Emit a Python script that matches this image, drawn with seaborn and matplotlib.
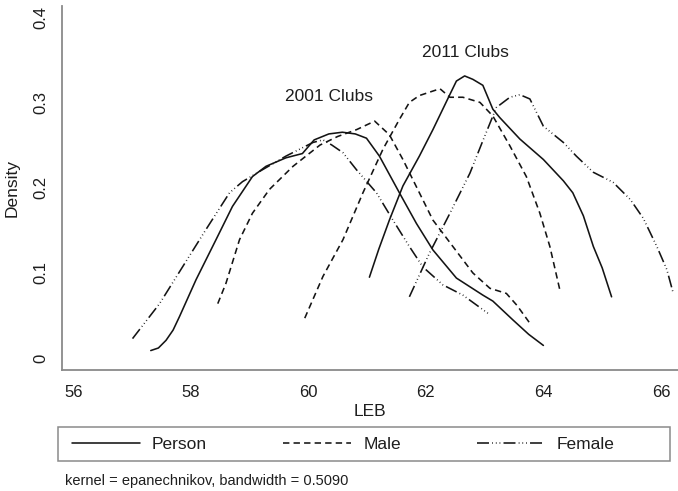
import numpy as np
import pandas as pd
import matplotlib
matplotlib.use("Agg")
import matplotlib.pyplot as plt
import matplotlib.patches as mpatches
import seaborn as sns

# ---- data (LEB, density) ----
person_2001_x = [57.32, 57.45, 57.58, 57.70, 57.81, 58.09, 58.43, 58.71, 59.05, 59.28, 59.62, 59.90,
                 60.10, 60.35, 60.58, 60.80, 60.99, 61.21, 61.55, 61.84, 62.12, 62.52, 62.97, 63.14,
                 63.48, 63.75, 64.00]
person_2001_y = [0.009, 0.012, 0.021, 0.033, 0.049, 0.092, 0.139, 0.178, 0.213, 0.225, 0.235, 0.240,
                 0.256, 0.263, 0.265, 0.263, 0.258, 0.237, 0.194, 0.158, 0.127, 0.094, 0.074, 0.067,
                 0.045, 0.028, 0.015]

male_2001_x = [58.46, 58.60, 58.83, 59.05, 59.34, 59.74, 59.96, 60.20, 60.50, 60.82, 61.13, 61.38,
               61.61, 61.89, 62.12, 62.46, 62.80, 63.09, 63.37, 63.55, 63.77]
male_2001_y = [0.064, 0.088, 0.139, 0.170, 0.198, 0.225, 0.237, 0.250, 0.260, 0.268, 0.278, 0.262,
               0.233, 0.194, 0.162, 0.131, 0.100, 0.082, 0.076, 0.062, 0.041]

female_2001_x = [57.01, 57.47, 57.86, 58.26, 58.66, 58.88, 59.22, 59.62, 60.08, 60.25, 60.40, 60.59,
                 60.82, 61.16, 61.44, 61.72, 61.95, 62.29, 62.63, 62.85, 63.09]
female_2001_y = [0.023, 0.064, 0.107, 0.151, 0.194, 0.207, 0.221, 0.237, 0.253, 0.256, 0.250, 0.241,
                 0.221, 0.194, 0.162, 0.131, 0.107, 0.086, 0.074, 0.063, 0.051]

person_2011_x = [61.04, 61.20, 61.38, 61.61, 61.89, 62.12, 62.40, 62.52, 62.66, 62.80, 62.97, 63.14,
                 63.26, 63.60, 64.00, 64.34, 64.50, 64.68, 64.85, 65.00, 65.16]
person_2011_y = [0.095, 0.128, 0.162, 0.202, 0.237, 0.268, 0.308, 0.325, 0.331, 0.327, 0.320, 0.292,
                 0.282, 0.257, 0.233, 0.208, 0.194, 0.167, 0.131, 0.106, 0.072]

male_2011_x = [59.94, 60.25, 60.59, 60.93, 61.27, 61.55, 61.72, 61.89, 62.24, 62.41, 62.63, 62.92,
               63.14, 63.43, 63.71, 63.94, 64.11, 64.28]
male_2011_y = [0.047, 0.096, 0.139, 0.194, 0.245, 0.280, 0.300, 0.308, 0.316, 0.306, 0.306, 0.300,
               0.284, 0.249, 0.213, 0.170, 0.131, 0.080]

female_2011_x = [61.72, 62.06, 62.41, 62.75, 62.97, 63.20, 63.43, 63.60, 63.77, 64.00, 64.34, 64.56,
                 64.85, 65.08, 65.19, 65.48, 65.70, 65.93, 66.10, 66.21]
female_2011_y = [0.072, 0.123, 0.170, 0.217, 0.255, 0.294, 0.306, 0.309, 0.304, 0.272, 0.253, 0.237,
                 0.218, 0.210, 0.206, 0.186, 0.164, 0.131, 0.104, 0.076]

groups = ["Person", "Male", "Female"]
x_ticks = [56, 58, 60, 62, 64, 66]
y_ticks = [0, 0.1, 0.2, 0.3, 0.4]
y_tick_labels = ["0", "0.1", "0.2", "0.3", "0.4"]
annotations = [("2001 Clubs", 60.36, 0.307), ("2011 Clubs", 62.68, 0.359)]
footnote = "kernel = epanechnikov, bandwidth = 0.5090"

# ---- build long table ----
series = [
    ("Person", "2001", person_2001_x, person_2001_y),
    ("Male", "2001", male_2001_x, male_2001_y),
    ("Female", "2001", female_2001_x, female_2001_y),
    ("Person", "2011", person_2011_x, person_2011_y),
    ("Male", "2011", male_2011_x, male_2011_y),
    ("Female", "2011", female_2011_x, female_2011_y),
]
frames = []
for g, yr, xs, ys in series:
    frames.append(pd.DataFrame({"LEB": xs, "Density": ys, "group": g, "year": yr}))
df = pd.concat(frames, ignore_index=True)

sns.set_style("white")
plt.rcParams["font.family"] = ["Liberation Sans", "DejaVu Sans"]
text_color = "#1e1e1e"
axis_gray = "#8a8a8a"

fig = plt.figure(figsize=(6.78, 4.91), dpi=100)
ax = fig.add_axes([62 / 678, 121 / 491, (678 - 62) / 678, (370 - 6) / 491])

dash_styles = {
    "Person": "",
    "Male": (4.0, 2.6),
    "Female": (7.5, 2.0, 0.5, 1.8, 0.5, 1.8, 0.5, 2.0),
}
sns.lineplot(data=df, x="LEB", y="Density", style="group", style_order=groups,
             units="year", estimator=None, dashes=dash_styles, color="#141414",
             linewidth=1.15, ax=ax, legend=True)

handles, labels = ax.get_legend_handles_labels()
if ax.get_legend() is not None:
    ax.get_legend().remove()

ax.set_xlim(55.81, 66.29)
ax.set_ylim(-0.0138, 0.413)
ax.set_xticks(x_ticks)
ax.set_xticklabels([str(t) for t in x_ticks])
ax.set_yticks(y_ticks)
ax.set_yticklabels(y_tick_labels)

for s in ["top", "right"]:
    ax.spines[s].set_visible(False)
for s in ["left", "bottom"]:
    ax.spines[s].set_color(axis_gray)
    ax.spines[s].set_linewidth(1.3)

ax.tick_params(axis="both", which="major", direction="out", length=5, width=1.1,
               color=axis_gray, labelsize=12, labelcolor=text_color)
ax.tick_params(axis="x", pad=6)
ax.tick_params(axis="y", pad=5)
for lbl in ax.get_yticklabels():
    lbl.set_rotation(90)
    lbl.set_va("center")

ax.set_xlabel("LEB", fontsize=12.5, color=text_color, labelpad=3)
ax.set_ylabel("Density", fontsize=12.5, color=text_color, labelpad=10)

for txt, xv, yv in annotations:
    ax.text(xv, yv, txt, ha="center", va="center", fontsize=12.5, color=text_color)

# legend
leg = fig.legend(handles, labels, loc="center left",
                 bbox_to_anchor=(72 / 678, 1 - 444 / 491), ncol=3, frameon=False,
                 handlelength=3.9, handletextpad=0.7, columnspacing=4.4,
                 borderpad=0, borderaxespad=0, fontsize=12.5)
for t in leg.get_texts():
    t.set_color(text_color)
for h in leg.get_lines():
    h.set_linewidth(1.15)
    h.set_color("#141414")

box = mpatches.Rectangle((58 / 678, 1 - 461 / 491), 612 / 678, 34 / 491,
                         transform=fig.transFigure, fill=False,
                         edgecolor=axis_gray, linewidth=1.1)
fig.patches.append(box)

fig.text(65 / 678, 1 - 481 / 491, footnote, ha="left", va="center",
         fontsize=10.5, color=text_color)

fig.savefig("out.png", dpi=100)
